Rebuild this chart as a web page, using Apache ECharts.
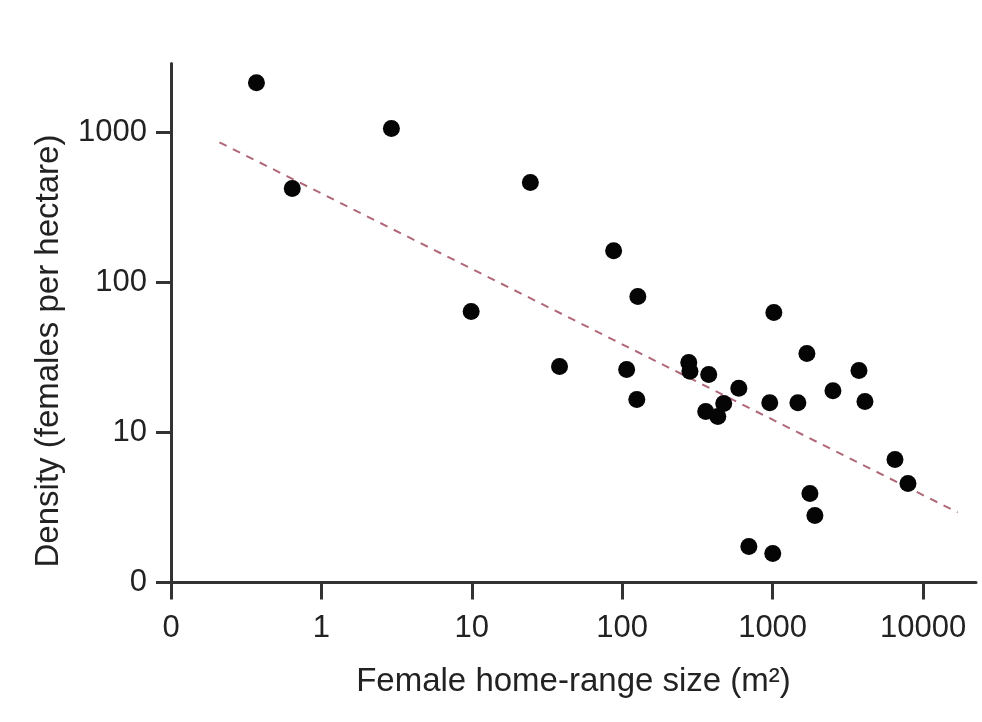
<!DOCTYPE html>
<html>
<head>
<meta charset="utf-8">
<script src="https://cdn.jsdelivr.net/npm/echarts@6/dist/echarts.min.js"></script>
<style>
  html, body { margin: 0; padding: 0; background: #fff; }
  #chart { width: 982px; height: 722px; }
</style>
</head>
<body>
<div id="chart"></div>
<script>
// Female home-range size (m^2)
const homeRange = [0.37, 0.64, 2.92, 9.9, 24.5, 38.3, 87.7, 127, 107, 125, 277, 282, 376, 359, 432, 473, 596, 695, 1002, 957, 1019, 1472, 1690, 1770, 1910, 2518, 3750, 4110, 6510, 7940];
// Density (females per hectare)
const density = [2150, 423, 1063, 64, 464, 27.5, 163, 80.6, 26.3, 16.6, 29.3, 25.6, 24.4, 13.8, 12.8, 15.6, 19.7, 1.74, 1.56, 15.8, 63, 15.8, 33.6, 3.92, 2.8, 19.0, 25.9, 16.1, 6.6, 4.57];
// Fitted trend line end points
const trendX = [0.21, 17000];
const trendY = [860, 2.93];

const xTickValues = [0.1, 1, 10, 100, 1000, 10000];
const xTickLabels = ['0', '1', '10', '100', '1000', '10000'];
const yTickValues = [1, 10, 100, 1000];
const yTickLabels = ['0', '10', '100', '1000'];

const points = homeRange.map((x, i) => [x, density[i]]);
const trend = trendX.map((x, i) => [x, trendY[i]]);

function labelFor(values, labels) {
  return function (v) {
    let best = 0, bd = Infinity;
    values.forEach((t, i) => {
      const d = Math.abs(Math.log10(v) - Math.log10(t));
      if (d < bd) { bd = d; best = i; }
    });
    return bd < 0.01 ? labels[best] : '';
  };
}

const textColor = '#222222';
const axisColor = '#333333';
const font = 'Liberation Sans, Arial, Helvetica, sans-serif';

const chart = echarts.init(document.getElementById('chart'));
chart.setOption({
  animation: false,
  backgroundColor: '#ffffff',
  grid: { left: 171, right: 6, top: 63.6, bottom: 139.5, containLabel: false },
  xAxis: {
    type: 'log',
    logBase: 10,
    min: 0.1,
    max: 22500,
    name: 'Female home-range size (m²)',
    nameLocation: 'middle',
    nameGap: 83,
    nameTextStyle: { fontSize: 33, color: textColor, fontFamily: font },
    axisLine: { show: true, lineStyle: { color: axisColor, width: 3 } },
    axisTick: { show: true, length: 17, inside: false, customValues: xTickValues, lineStyle: { color: axisColor, width: 3 } },
    axisLabel: { show: true, margin: 30, fontSize: 31, color: textColor, fontFamily: font, customValues: xTickValues, formatter: labelFor(xTickValues, xTickLabels) },
    splitLine: { show: false },
    minorTick: { show: false }
  },
  yAxis: {
    type: 'log',
    logBase: 10,
    min: 1,
    max: 2880,
    name: 'Density (females per hectare)',
    nameLocation: 'middle',
    nameGap: 106,
    nameRotate: 90,
    nameTextStyle: { fontSize: 33, color: textColor, fontFamily: font, padding: [0, 56, 0, 0] },
    axisLine: { show: true, lineStyle: { color: axisColor, width: 3 } },
    axisTick: { show: true, length: 15, inside: false, customValues: yTickValues, lineStyle: { color: axisColor, width: 3 } },
    axisLabel: { show: true, margin: 24, fontSize: 31, color: textColor, fontFamily: font, customValues: yTickValues, formatter: labelFor(yTickValues, yTickLabels) },
    splitLine: { show: false },
    minorTick: { show: false }
  },
  series: [
    {
      type: 'line',
      data: trend,
      symbol: 'none',
      lineStyle: { color: '#b06878', width: 2, type: [8, 7] },
      z: 1,
      silent: true
    },
    {
      type: 'scatter',
      data: points,
      symbol: 'circle',
      symbolSize: 17,
      itemStyle: { color: '#050505', opacity: 1 },
      z: 2
    }
  ]
});
</script>
</body>
</html>
